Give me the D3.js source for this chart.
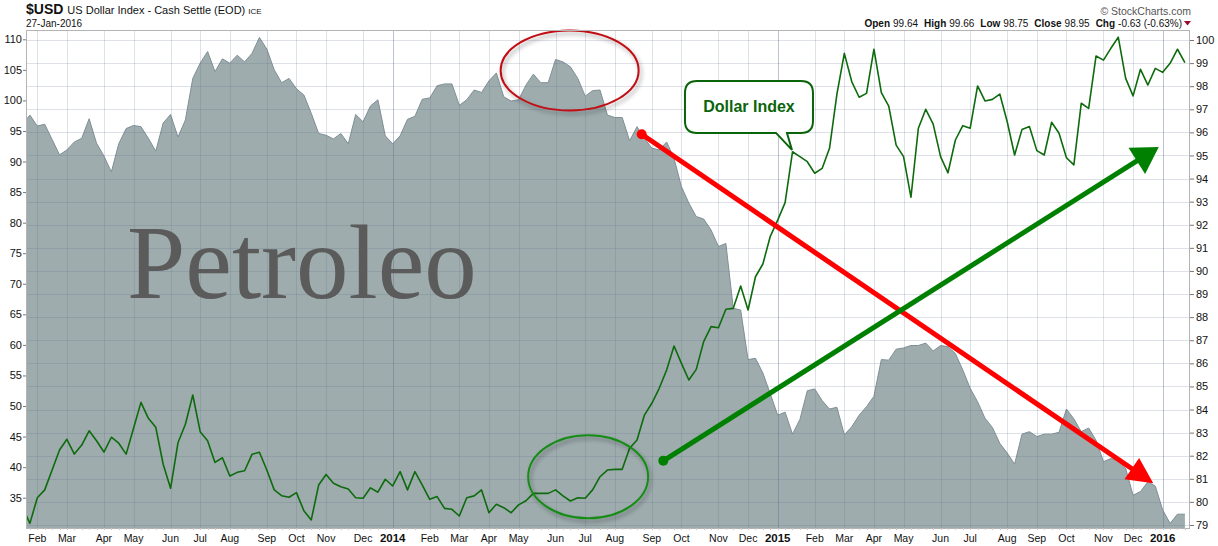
<!DOCTYPE html>
<html>
<head>
<meta charset="utf-8">
<script src="https://cdn.jsdelivr.net/npm/d3@7"></script>
<style>
  body { margin: 0; background: #fff; }
  svg { display: block; font-family: "Liberation Sans", Arial, sans-serif; }
</style>
</head>
<body>
<div id="chart"></div>
<script>
// weekly closes, 18-Jan-2013 .. 22-Jan-2016
var oilValues = [
  96.1, 97.6, 95.8, 96.1, 93.6, 91.1, 91.9, 93.2, 93.8, 97.0,
  93.0, 90.9, 88.3, 92.9, 95.4, 95.9, 95.7, 93.8, 91.7, 96.3,
  97.7, 94.0, 96.8, 103.6, 106.1, 108.0, 104.7, 106.8, 106.1, 107.4,
  106.3, 107.7, 110.3, 108.4, 105.0, 102.9, 103.6, 101.9, 100.9, 97.9,
  94.6, 94.3, 93.7, 94.6, 92.9, 97.7, 96.5, 99.1, 100.1, 94.2,
  92.9, 94.2, 96.9, 97.4, 100.2, 100.4, 102.4, 102.7, 102.7, 99.2,
  100.1, 101.7, 101.3, 103.2, 104.5, 100.6, 99.9, 100.1, 102.5, 104.3,
  102.9, 102.9, 106.7, 106.3, 105.5, 103.6, 100.7, 101.6, 101.7, 97.6,
  97.2, 97.2, 93.4, 95.7, 93.8, 92.2, 91.9, 93.2, 90.5, 85.9,
  83.2, 81.0, 80.6, 78.8, 76.1, 76.6, 66.0, 65.7, 57.6, 57.8,
  55.4, 52.0, 48.5, 49.0, 45.4, 47.8, 52.5, 52.8, 50.9, 49.5,
  49.8, 45.3, 46.6, 48.5, 49.9, 51.6, 57.6, 57.5, 59.3, 59.5,
  59.9, 59.9, 60.3, 59.0, 59.9, 59.7, 58.6, 55.9, 52.9, 50.7,
  48.0, 46.5, 43.9, 42.3, 40.5, 45.4, 45.8, 45.0, 45.4, 45.4,
  45.7, 49.5, 47.9, 45.8, 46.4, 44.4, 40.9, 41.4, 41.1, 39.8,
  35.4, 36.0, 37.6, 36.9, 33.0, 30.8, 32.3, 32.3
];

var usdValues = [
  79.76, 79.07, 80.18, 80.52, 81.38, 82.25, 82.71, 82.07, 82.46, 83.08,
  82.65, 82.16, 82.80, 82.54, 82.07, 83.19, 84.31, 83.62, 83.23, 81.63,
  80.59, 82.56, 83.36, 84.63, 83.04, 82.65, 81.71, 81.91, 81.12, 81.28,
  81.35, 82.06, 82.15, 81.38, 80.52, 80.27, 80.20, 80.40, 79.62, 79.22,
  80.73, 81.19, 80.81, 80.66, 80.56, 80.18, 80.16, 80.61, 80.42, 80.98,
  80.69, 81.31, 80.52, 81.31, 80.73, 80.11, 80.23, 79.72, 79.68, 79.39,
  80.18, 80.26, 80.52, 79.53, 79.90, 79.75, 79.53, 79.87, 80.05, 80.37,
  80.37, 80.37, 80.52, 80.26, 80.04, 80.18, 80.16, 80.52, 81.09, 81.38,
  81.41, 81.41, 82.32, 82.68, 83.76, 84.27, 84.92, 85.71, 86.75, 86.00,
  85.28, 85.74, 86.94, 87.59, 87.54, 88.34, 88.38, 89.35, 88.31, 89.75,
  90.30, 91.50, 92.20, 92.96, 95.16, 94.95, 94.73, 94.23, 94.44, 95.31,
  97.66, 99.42, 98.20, 97.52, 97.69, 99.60, 97.72, 97.14, 95.45, 94.95,
  93.19, 96.18, 97.00, 96.36, 94.95, 94.25, 95.67, 96.29, 96.18, 98.01,
  97.36, 97.43, 97.66, 96.46, 95.02, 96.13, 96.25, 95.21, 95.02, 96.44,
  95.96, 94.90, 94.59, 97.26, 97.04, 99.31, 99.13, 99.64, 100.12, 98.34,
  97.58, 98.73, 98.05, 98.77, 98.60, 98.99, 99.60, 99.02
];

var leftTicks = [35, 40, 45, 50, 55, 60, 65, 70, 75, 80, 85, 90, 95, 100, 105, 110];
var rightTicks = [79, 80, 81, 82, 83, 84, 85, 86, 87, 88, 89, 90, 91, 92, 93, 94, 95, 96, 97, 98, 99, 100];
var monthNames = ['Jan', 'Feb', 'Mar', 'Apr', 'May', 'Jun', 'Jul', 'Aug', 'Sep', 'Oct', 'Nov', 'Dec'];

var quoteParts = [['Open', '99.64'], ['High', '99.66'], ['Low', '98.75'], ['Close', '98.95'], ['Chg', '-0.63 (-0.63%)']];

var width = 1218, height = 546;
// note: "top" is taken by window.top, so plot bounds get a prefix
var plotL = 26, plotR = 1190, plotT = 30, plotB = 528;

var weeks = d3.timeFriday.range(new Date(2013, 0, 18), new Date(2016, 0, 23));
var monthStarts = weeks.filter(function(d, i) {
  return i > 0 && d.getMonth() !== weeks[i - 1].getMonth();
});

var x = d3.scaleTime()
  .domain([weeks[0], weeks[weeks.length - 1]])
  .range([22.5, 1184.9]);
var yL = d3.scaleLinear().domain([35, 110]).range([497.7, 39.3]);
var yR = d3.scaleLinear().domain([79, 100]).range([525, 40]);

// position by week index (fractional allowed)
var xi = function(i) {
  return x(d3.timeDay.offset(weeks[0], 0).getTime() + i * 7 * 864e5);
};

var svg = d3.select('#chart')
  .append('svg')
  .attr('width', width)
  .attr('height', height);

var defs = svg.append('defs');
defs.append('clipPath').attr('id', 'plotclip')
  .append('rect')
  .attr('x', plotL).attr('y', plotT)
  .attr('width', plotR - plotL).attr('height', plotB - plotT);

var shadow = defs.append('filter').attr('id', 'shadow')
  .attr('x', '-20%').attr('y', '-20%').attr('width', '140%').attr('height', '150%');
shadow.append('feDropShadow')
  .attr('dx', 2).attr('dy', 3).attr('stdDeviation', 2)
  .attr('flood-color', '#000').attr('flood-opacity', 0.35);

var plot = svg.append('g').attr('clip-path', 'url(#plotclip)');

// oil area
var area = d3.area()
  .x(function(d, i) { return x(weeks[i]); })
  .y0(plotB)
  .y1(function(d) { return yL(d); });
plot.append('path')
  .datum(oilValues)
  .attr('d', area)
  .attr('fill', '#9eacad');
plot.append('path')
  .datum(oilValues)
  .attr('d', d3.line().x(function(d, i) { return x(weeks[i]); }).y(function(d) { return yL(d); }))
  .attr('fill', 'none')
  .attr('stroke', '#7e8f96')
  .attr('stroke-width', 1);

// grid
plot.selectAll('.hgrid')
  .data(rightTicks)
  .enter().append('line')
  .attr('class', 'hgrid')
  .attr('x1', plotL).attr('x2', plotR)
  .attr('y1', function(d) { return Math.round(yR(d)) + 0.5; })
  .attr('y2', function(d) { return Math.round(yR(d)) + 0.5; })
  .attr('stroke', 'rgb(90,105,140)')
  .attr('stroke-opacity', 0.2);

plot.selectAll('.vgrid')
  .data(monthStarts)
  .enter().append('line')
  .attr('class', 'vgrid')
  .attr('x1', function(d) { return Math.round(x(d)) + 0.5; })
  .attr('x2', function(d) { return Math.round(x(d)) + 0.5; })
  .attr('y1', plotT).attr('y2', plotB)
  .attr('stroke', 'rgb(90,105,140)')
  .attr('stroke-opacity', function(d) { return d.getMonth() === 0 ? 0.4 : 0.2; });

// dollar index line
plot.append('path')
  .datum(usdValues)
  .attr('d', d3.line().x(function(d, i) { return x(weeks[i]); }).y(function(d) { return yR(d); }))
  .attr('fill', 'none')
  .attr('stroke', '#0d6b0d')
  .attr('stroke-width', 1.6)
  .attr('stroke-linejoin', 'round');

// big label
svg.append('text')
  .attr('x', xi(14.1))
  .attr('y', yL(67.7))
  .attr('font-family', '"Liberation Serif", "Times New Roman", serif')
  .attr('font-size', 105)
  .attr('fill', '#5b5b5b')
  .text('Petroleo');

// ellipses
svg.append('ellipse')
  .attr('cx', xi(73.9)).attr('cy', yL(104.9))
  .attr('rx', 69).attr('ry', 40)
  .attr('fill', 'none')
  .attr('stroke', '#c00d12')
  .attr('stroke-width', 2)
  .attr('filter', 'url(#shadow)');

svg.append('ellipse')
  .attr('cx', xi(76.4)).attr('cy', yR(81.09))
  .attr('rx', 60).attr('ry', 41.5)
  .attr('fill', 'none')
  .attr('stroke', '#188c18')
  .attr('stroke-width', 2)
  .attr('filter', 'url(#shadow)');

// arrows
var arrow = function(x1, y1, x2, y2, color, headLen, headW) {
  var dx = x2 - x1, dy = y2 - y1,
      len = Math.sqrt(dx * dx + dy * dy),
      ux = dx / len, uy = dy / len,
      bx = x2 - ux * headLen, by = y2 - uy * headLen;
  svg.append('line')
    .attr('x1', x1).attr('y1', y1)
    .attr('x2', bx + ux * 2).attr('y2', by + uy * 2)
    .attr('stroke', color)
    .attr('stroke-width', 5);
  svg.append('circle')
    .attr('cx', x1).attr('cy', y1).attr('r', 5)
    .attr('fill', color);
  svg.append('path')
    .attr('d', 'M' + x2 + ',' + y2 +
      'L' + (bx - uy * headW / 2) + ',' + (by + ux * headW / 2) +
      'L' + (bx + uy * headW / 2) + ',' + (by - ux * headW / 2) + 'Z')
    .attr('fill', color);
};
arrow(xi(83.63), yL(94.46), xi(152.73), yL(37.36), '#ff0000', 26, 26);
arrow(xi(86.55), yR(81.78), xi(153.47), yR(95.37), '#008000', 26, 31);

// callout
var tipX = xi(103.93), tipY = yR(95.24);
var bx0 = tipX - 107, bx1 = tipX + 21, by0 = tipY - 69, by1 = tipY - 17, r = 12;
svg.append('path')
  .attr('d', 'M' + (bx0 + r) + ',' + by0 +
    'H' + (bx1 - r) + 'Q' + bx1 + ',' + by0 + ' ' + bx1 + ',' + (by0 + r) +
    'V' + (by1 - r) + 'Q' + bx1 + ',' + by1 + ' ' + (bx1 - r) + ',' + by1 +
    'H' + (tipX - 5) + 'L' + tipX + ',' + tipY + 'L' + (tipX - 16) + ',' + by1 +
    'H' + (bx0 + r) + 'Q' + bx0 + ',' + by1 + ' ' + bx0 + ',' + (by1 - r) +
    'V' + (by0 + r) + 'Q' + bx0 + ',' + by0 + ' ' + (bx0 + r) + ',' + by0 + 'Z')
  .attr('fill', '#fff')
  .attr('stroke', '#0a640a')
  .attr('stroke-width', 2);
svg.append('text')
  .attr('x', (bx0 + bx1) / 2)
  .attr('y', by0 + 31)
  .attr('text-anchor', 'middle')
  .attr('font-size', 16)
  .attr('font-weight', 'bold')
  .attr('fill', '#0a640a')
  .text('Dollar Index');

// frame
svg.append('rect')
  .attr('x', plotL + 0.5).attr('y', plotT + 0.5)
  .attr('width', plotR - plotL - 1).attr('height', plotB - plotT)
  .attr('fill', 'none')
  .attr('stroke', '#b4b4b4');

// axes
var leftAxis = svg.append('g')
  .attr('transform', 'translate(' + plotL + ',0)')
  .call(d3.axisLeft(yL).tickValues(leftTicks).tickSize(3).tickPadding(1));
var rightAxis = svg.append('g')
  .attr('transform', 'translate(' + plotR + ',0)')
  .call(d3.axisRight(yR).tickValues(rightTicks).tickSize(4).tickPadding(2));
[leftAxis, rightAxis].forEach(function(g) {
  g.select('.domain').remove();
  g.selectAll('line').attr('stroke', '#777');
  g.selectAll('text')
    .attr('font-family', '"Liberation Sans", Arial, sans-serif')
    .attr('font-size', 11)
    .attr('fill', '#111');
});

svg.selectAll('.wtick')
  .data(weeks)
  .enter().append('line')
  .attr('class', 'wtick')
  .attr('x1', function(d) { return Math.round(x(d)) + 0.5; })
  .attr('x2', function(d) { return Math.round(x(d)) + 0.5; })
  .attr('y1', plotB).attr('y2', plotB + 2)
  .attr('stroke', '#c8c8c8')
  .style('display', function(d) { return x(d) < plotL ? 'none' : null; });

svg.selectAll('.xlabel')
  .data(monthStarts)
  .enter().append('text')
  .attr('class', 'xlabel')
  .attr('x', function(d) { return x(d); })
  .attr('y', 542)
  .attr('text-anchor', 'middle')
  .attr('font-size', function(d) { return d.getMonth() === 0 ? 11.5 : 10.5; })
  .attr('font-weight', function(d) { return d.getMonth() === 0 ? 'bold' : 'normal'; })
  .attr('fill', '#111')
  .text(function(d) { return d.getMonth() === 0 ? d.getFullYear() : monthNames[d.getMonth()]; });

// header
var title = svg.append('text').attr('x', 26).attr('y', 14).attr('fill', '#111');
title.append('tspan').attr('font-size', 14).attr('font-weight', 'bold').text('$USD');
title.append('tspan').attr('font-size', 11).attr('dx', 4).text('US Dollar Index - Cash Settle (EOD)');
title.append('tspan').attr('font-size', 8).attr('dx', 3).text('ICE');

svg.append('text')
  .attr('x', 26).attr('y', 27)
  .attr('font-size', 10)
  .attr('fill', '#111')
  .text('27-Jan-2016');

svg.append('text')
  .attr('x', 1191).attr('y', 15)
  .attr('text-anchor', 'end')
  .attr('font-size', 10.5)
  .attr('fill', '#555')
  .text('\u00a9 StockCharts.com');

var quote = svg.append('text')
  .attr('x', 1182).attr('y', 27)
  .attr('text-anchor', 'end')
  .attr('font-size', 10)
  .attr('fill', '#111');
quoteParts.forEach(function(p, i) {
  quote.append('tspan').attr('font-weight', 'bold').attr('dx', i ? 6 : 0).text(p[0]);
  quote.append('tspan').attr('dx', 3).text(p[1]);
});
svg.append('path')
  .attr('d', 'M1184,21L1191,21L1187.5,25.5Z')
  .attr('fill', '#9a0a2a');
</script>
</body>
</html>
